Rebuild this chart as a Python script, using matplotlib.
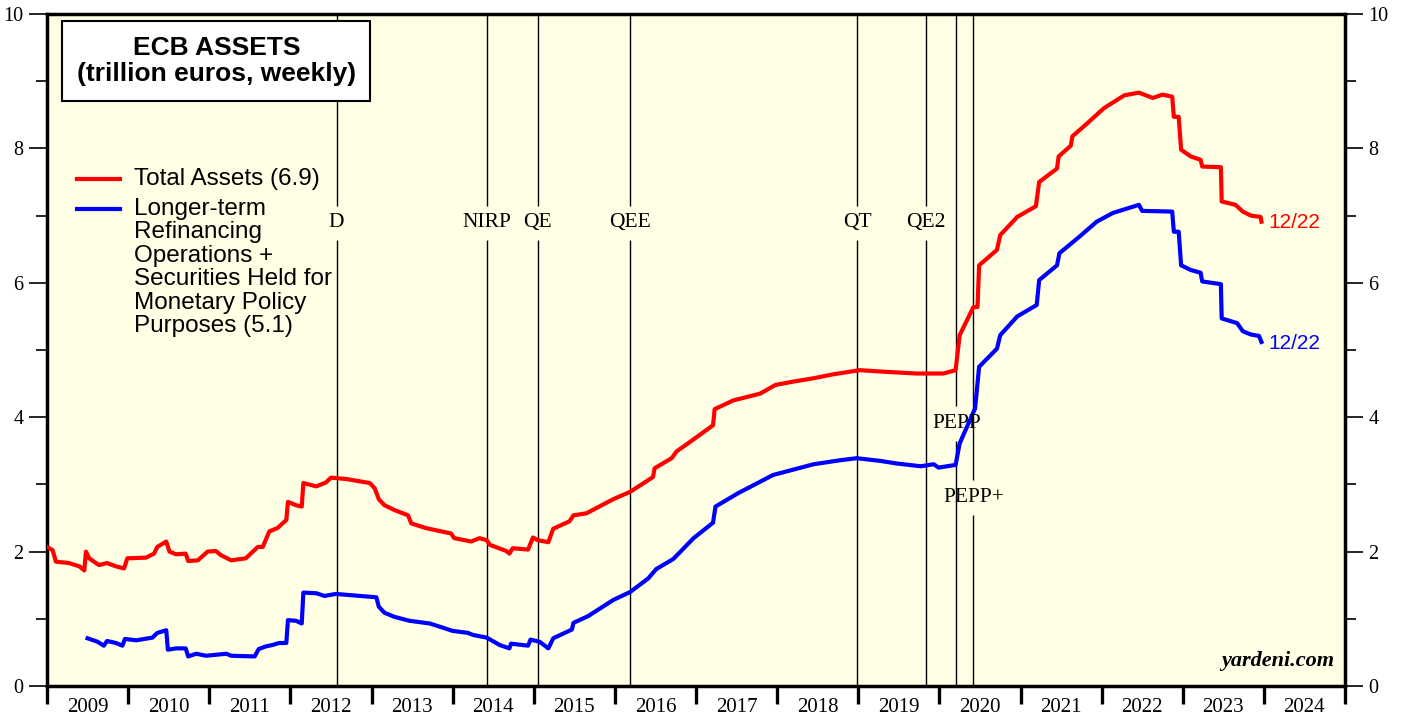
import matplotlib
matplotlib.use('Agg')
import matplotlib.pyplot as plt
from matplotlib.ticker import FixedLocator, NullFormatter, FixedFormatter

# Total assets, trillion euros (decimal year, value)
red_x = [2009.00, 2009.07, 2009.11, 2009.27, 2009.40, 2009.46, 2009.48, 2009.52, 2009.64, 2009.74,
         2009.85, 2009.95, 2009.99, 2010.22, 2010.32, 2010.36, 2010.47, 2010.51, 2010.59, 2010.71,
         2010.74, 2010.86, 2010.98, 2011.08, 2011.14, 2011.27, 2011.45, 2011.52, 2011.60, 2011.66,
         2011.74, 2011.84, 2011.95, 2011.97, 2012.07, 2012.14, 2012.16, 2012.32, 2012.44, 2012.50,
         2012.69, 2012.98, 2013.04, 2013.09, 2013.16, 2013.28, 2013.45, 2013.49, 2013.67, 2013.98,
         2014.02, 2014.23, 2014.33, 2014.42, 2014.46, 2014.66, 2014.70, 2014.74, 2014.93, 2014.99,
         2015.05, 2015.18, 2015.24, 2015.44, 2015.49, 2015.65, 2015.98, 2016.19, 2016.47, 2016.49,
         2016.70, 2016.76, 2016.97, 2017.21, 2017.23, 2017.46, 2017.79, 2017.98, 2018.20, 2018.45,
         2018.70, 2019.02, 2019.27, 2019.72, 2020.05, 2020.20, 2020.25, 2020.42, 2020.47, 2020.49,
         2020.71, 2020.75, 2020.96, 2021.19, 2021.23, 2021.45, 2021.47, 2021.62, 2021.64, 2021.82,
         2022.03, 2022.28, 2022.46, 2022.63, 2022.75, 2022.87, 2022.89, 2022.95, 2022.98, 2023.10,
         2023.22, 2023.24, 2023.47, 2023.48, 2023.65, 2023.74, 2023.84, 2023.96, 2023.97]
red_y = [2.07, 2.02, 1.85, 1.83, 1.78, 1.72, 2.00, 1.90, 1.80, 1.83,
         1.78, 1.75, 1.90, 1.91, 1.97, 2.07, 2.15, 2.00, 1.96, 1.97,
         1.86, 1.87, 2.00, 2.01, 1.95, 1.87, 1.90, 1.98, 2.07, 2.07,
         2.30, 2.35, 2.47, 2.74, 2.69, 2.67, 3.02, 2.97, 3.03, 3.10,
         3.08, 3.02, 2.94, 2.78, 2.69, 2.62, 2.54, 2.42, 2.35, 2.27,
         2.20, 2.15, 2.20, 2.17, 2.10, 2.01, 1.97, 2.05, 2.03, 2.21,
         2.17, 2.14, 2.34, 2.45, 2.54, 2.57, 2.78, 2.89, 3.11, 3.24,
         3.39, 3.49, 3.67, 3.88, 4.12, 4.25, 4.35, 4.48, 4.53, 4.58,
         4.64, 4.70, 4.68, 4.65, 4.65, 4.70, 5.22, 5.64, 5.64, 6.26,
         6.49, 6.71, 6.98, 7.14, 7.50, 7.70, 7.88, 8.04, 8.18, 8.37,
         8.60, 8.79, 8.83, 8.75, 8.80, 8.77, 8.47, 8.47, 7.98, 7.88,
         7.83, 7.73, 7.72, 7.21, 7.16, 7.06, 7.00, 6.98, 6.91]

# LTRO + securities held for monetary policy purposes
blue_x = [2009.50, 2009.62, 2009.70, 2009.74, 2009.85, 2009.93, 2009.96, 2010.10, 2010.30, 2010.36,
          2010.47, 2010.49, 2010.59, 2010.71, 2010.74, 2010.84, 2010.96, 2011.21, 2011.27, 2011.56,
          2011.61, 2011.70, 2011.78, 2011.86, 2011.95, 2011.97, 2012.07, 2012.14, 2012.16, 2012.32,
          2012.42, 2012.56, 2013.06, 2013.09, 2013.16, 2013.28, 2013.47, 2013.72, 2014.00, 2014.19,
          2014.25, 2014.42, 2014.58, 2014.70, 2014.72, 2014.93, 2014.96, 2015.07, 2015.18, 2015.24,
          2015.47, 2015.49, 2015.67, 2015.98, 2016.19, 2016.41, 2016.51, 2016.72, 2016.97, 2017.21,
          2017.24, 2017.52, 2017.95, 2018.45, 2018.78, 2018.98, 2019.27, 2019.48, 2019.77, 2019.93,
          2019.99, 2020.20, 2020.25, 2020.44, 2020.49, 2020.71, 2020.75, 2020.96, 2021.20, 2021.23,
          2021.45, 2021.48, 2021.73, 2021.94, 2022.14, 2022.46, 2022.50, 2022.87, 2022.89, 2022.95,
          2022.98, 2023.10, 2023.22, 2023.24, 2023.47, 2023.48, 2023.67, 2023.74, 2023.84, 2023.94,
          2023.97]
blue_y = [0.71, 0.66, 0.60, 0.67, 0.64, 0.60, 0.70, 0.68, 0.72, 0.79,
          0.83, 0.54, 0.56, 0.56, 0.44, 0.48, 0.45, 0.48, 0.45, 0.44,
          0.55, 0.59, 0.61, 0.64, 0.64, 0.98, 0.97, 0.93, 1.39, 1.38,
          1.34, 1.37, 1.32, 1.18, 1.09, 1.03, 0.97, 0.93, 0.82, 0.79,
          0.76, 0.72, 0.61, 0.56, 0.63, 0.60, 0.69, 0.66, 0.56, 0.71,
          0.84, 0.94, 1.04, 1.28, 1.40, 1.60, 1.74, 1.89, 2.20, 2.43,
          2.67, 2.87, 3.14, 3.30, 3.36, 3.39, 3.35, 3.31, 3.27, 3.30,
          3.25, 3.29, 3.61, 4.13, 4.75, 5.02, 5.22, 5.50, 5.67, 6.04,
          6.26, 6.44, 6.69, 6.91, 7.04, 7.16, 7.07, 7.06, 6.76, 6.76,
          6.26, 6.19, 6.15, 6.02, 5.98, 5.47, 5.40, 5.28, 5.23, 5.21,
          5.12]

event_names = ['D', 'NIRP', 'QE', 'QEE', 'QT', 'QE2', 'PEPP', 'PEPP+']
event_dates = [2012.57, 2014.42, 2015.05, 2016.19, 2018.99, 2019.83, 2020.21, 2020.42]
event_label_y = [6.89, 6.89, 6.89, 6.89, 6.89, 6.89, 3.90, 2.81]

years = list(range(2009, 2025))

BG = '#FFFFE6'
SERIF = ['Liberation Serif', 'DejaVu Serif']
SANS = ['Liberation Sans', 'DejaVu Sans']

fig = plt.figure(figsize=(14.03, 7.17), dpi=100)
ax = fig.add_axes([47 / 1403, 1 - 686 / 717, 1298 / 1403, 672 / 717])
ax.set_facecolor(BG)

ax.set_xlim(2009, 2025)
ax.set_ylim(0, 10)

# event lines, broken around their labels
gap = 0.26
for name, d, ly in zip(event_names, event_dates, event_label_y):
    ax.vlines(d, 0, ly - gap, color='black', lw=1.0, zorder=1)
    ax.vlines(d, ly + gap, 10, color='black', lw=1.0, zorder=1)
    ax.text(d, ly, name, ha='center', va='center', fontsize=15.5, family=SERIF, zorder=4)

ax.plot(red_x, red_y, color='#FF0000', lw=3, zorder=3, solid_joinstyle='round')
ax.plot(blue_x, blue_y, color='#0000FF', lw=3, zorder=3, solid_joinstyle='round')

ax.text(red_x[-1] + 0.08, 6.89, '12/22', color='#FF0000', fontsize=15, family=SANS,
        ha='left', va='center')
ax.text(blue_x[-1] + 0.08, 5.09, '12/22', color='#0000FF', fontsize=15, family=SANS,
        ha='left', va='center')

# ticks
ax.xaxis.set_major_locator(FixedLocator(years + [2025]))
ax.xaxis.set_major_formatter(NullFormatter())
ax.xaxis.set_minor_locator(FixedLocator([y + 0.5 for y in years]))
ax.xaxis.set_minor_formatter(FixedFormatter([str(y) for y in years]))
ax.tick_params(axis='x', which='major', direction='out', length=13, width=2.4, bottom=True, top=False)
ax.tick_params(axis='x', which='minor', length=0, pad=9, labelsize=15)

ax.yaxis.set_major_locator(FixedLocator([0, 2, 4, 6, 8, 10]))
ax.yaxis.set_minor_locator(FixedLocator([1, 3, 5, 7, 9]))
ax.tick_params(axis='y', which='major', direction='out', length=13, width=1.2,
               left=True, right=True, labelleft=True, labelright=True, labelsize=14.5, pad=4)
ax.tick_params(axis='y', which='minor', direction='out', length=8, width=1.2, left=True, right=True)
for lab in ax.get_xticklabels(minor=True) + ax.get_yticklabels():
    lab.set_family(SERIF)

for s in ax.spines.values():
    s.set_linewidth(2.5)

# title box
ax.text(0.1305, 0.930, 'ECB ASSETS\n(trillion euros, weekly)', transform=ax.transAxes,
        ha='center', va='center', fontsize=19, fontweight='bold', family=SANS,
        linespacing=1.12,
        bbox=dict(boxstyle='square,pad=0.55', facecolor='white', edgecolor='black', lw=1.5))

# legend
ax.plot([0.023, 0.056], [0.755, 0.755], transform=ax.transAxes, color='#FF0000', lw=3)
ax.plot([0.023, 0.056], [0.710, 0.710], transform=ax.transAxes, color='#0000FF', lw=3)
ax.text(0.067, 0.755, 'Total Assets (6.9)', transform=ax.transAxes, ha='left', va='center',
        fontsize=17.5, family=SANS)
ax.text(0.067, 0.726, 'Longer-term\nRefinancing\nOperations +\nSecurities Held for\n'
        'Monetary Policy\nPurposes (5.1)', transform=ax.transAxes, ha='left', va='top',
        fontsize=17.5, family=SANS, linespacing=1.08)

ax.text(0.992, 0.022, 'yardeni.com', transform=ax.transAxes, ha='right', va='bottom',
        fontsize=16, fontweight='bold', style='italic', family=SERIF)

fig.savefig('out.png', dpi=100, facecolor='white')
